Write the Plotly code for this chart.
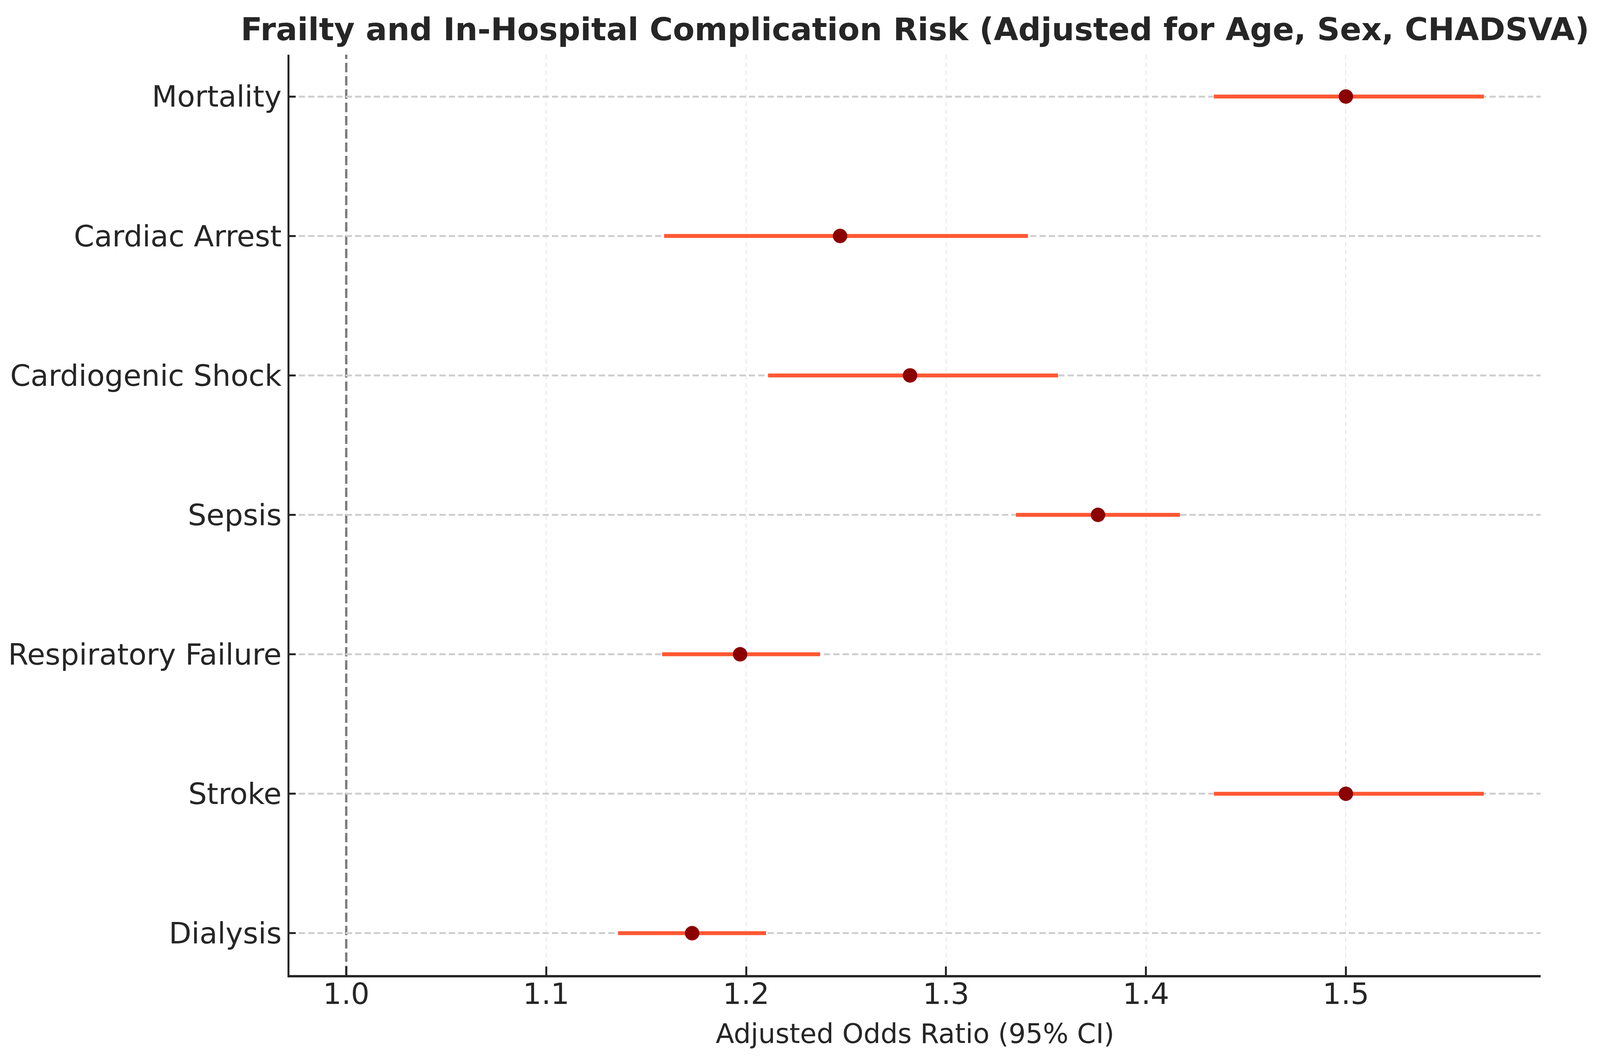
import plotly.graph_objects as go

outcomes = ["Mortality", "Cardiac Arrest", "Cardiogenic Shock", "Sepsis",
            "Respiratory Failure", "Stroke", "Dialysis"]
odds_ratio = [1.50, 1.247, 1.282, 1.376, 1.197, 1.50, 1.173]
ci_lower = [1.434, 1.159, 1.211, 1.335, 1.158, 1.434, 1.136]
ci_upper = [1.569, 1.341, 1.356, 1.417, 1.237, 1.569, 1.210]
x_ticks = [1.0, 1.1, 1.2, 1.3, 1.4, 1.5]
x_tick_labels = ["1.0", "1.1", "1.2", "1.3", "1.4", "1.5"]

err_plus = [u - o for u, o in zip(ci_upper, odds_ratio)]
err_minus = [o - l for o, l in zip(odds_ratio, ci_lower)]

H = 2696
FONT = "DejaVu Sans"
TXT = "#262626"

fig = go.Figure()
fig.add_trace(go.Scatter(
    x=odds_ratio, y=outcomes, mode="markers",
    marker=dict(color="#8B0000", size=37),
    error_x=dict(type="data", symmetric=False, array=err_plus, arrayminus=err_minus,
                 color="#FF5733", thickness=10, width=0),
    showlegend=False, cliponaxis=False,
))

fig.add_vline(x=1.0, line=dict(color="#7f7f7f", width=6, dash="24px,10px"), layer="below")

cat_order = list(reversed(outcomes))

fig.update_layout(
    autosize=True, height=H,
    paper_bgcolor="white", plot_bgcolor="white",
    margin=dict(l=733, r=144, t=132, b=207, autoexpand=False),
    font=dict(family=FONT, color=TXT),
    title=dict(text="<b>Frailty and In-Hospital Complication Risk (Adjusted for Age, Sex, CHADSVA)</b>",
               x=0.5, xref="paper", xanchor="center",
               y=1 - 67 / H, yref="container", yanchor="middle",
               font=dict(family=FONT, size=81, color=TXT)),
    xaxis=dict(
        range=[0.9716, 1.5974], tickvals=x_ticks, ticktext=x_tick_labels,
        showline=True, linecolor=TXT, linewidth=6, mirror=False,
        ticks="inside", ticklen=22, tickwidth=5, tickcolor=TXT,
        tickfont=dict(family=FONT, size=75, color=TXT),
        showgrid=True, gridcolor="rgba(0,0,0,0.10)", gridwidth=2, griddash="12px,8px",
        zeroline=False, ticklabelstandoff=-22,
        title=dict(text="Adjusted Odds Ratio (95% CI)", standoff=37,
                   font=dict(family=FONT, size=69, color=TXT)),
    ),
    yaxis=dict(
        type="category", categoryorder="array", categoryarray=cat_order,
        range=[-0.3, 6.3],
        showline=True, linecolor=TXT, linewidth=5, mirror=False,
        ticks="inside", ticklen=16, tickwidth=5, tickcolor=TXT,
        tickfont=dict(family=FONT, size=75, color=TXT),
        showgrid=True, gridcolor="#cfcfcf", gridwidth=5, griddash="16px,8px",
        zeroline=False, ticklabelstandoff=0,
    ),
)

fig.write_html("out.html")
